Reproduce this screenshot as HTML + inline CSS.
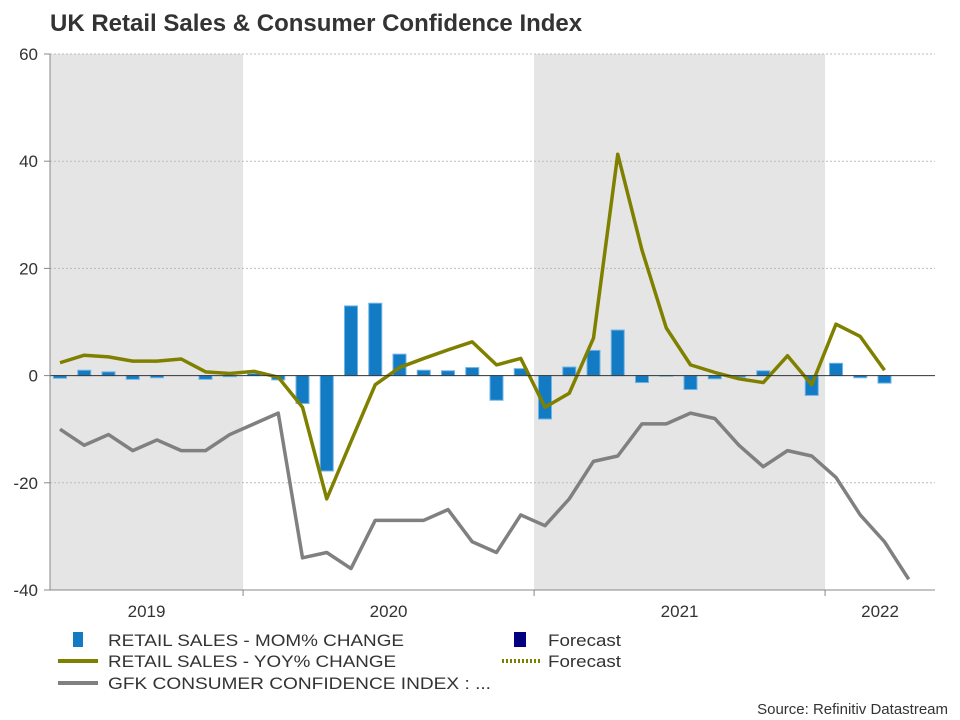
<!DOCTYPE html>
<html><head><meta charset="utf-8"><style>
body{margin:0;background:#fff;}
svg{display:block;font-family:"Liberation Sans",Arial,sans-serif;}
</style></head><body>
<svg id="chart" width="960" height="720" viewBox="0 0 960 720">
<text x="50" y="31" font-size="24" font-weight="bold" fill="#333">UK Retail Sales &amp; Consumer Confidence Index</text>
<g id="bg"></g><g id="grid"></g><g id="bars"></g><g id="lines"></g><g id="axes"></g>
<g font-size="17" fill="#333">
<g><rect x="73" y="632" width="10" height="15" fill="#127bc4"/><text x="108" y="646" textLength="296" lengthAdjust="spacingAndGlyphs">RETAIL SALES - MOM% CHANGE</text></g>
<g><rect x="514" y="632" width="12" height="15" fill="#000080"/><text x="548" y="646" textLength="73" lengthAdjust="spacingAndGlyphs">Forecast</text></g>
<g><line x1="58" y1="661" x2="98" y2="661" stroke="#808000" stroke-width="4"/><text x="108" y="667" textLength="288" lengthAdjust="spacingAndGlyphs">RETAIL SALES - YOY% CHANGE</text></g>
<g><line x1="502" y1="661" x2="542" y2="661" stroke="#808000" stroke-width="4" stroke-dasharray="2,2"/><text x="548" y="667" textLength="73" lengthAdjust="spacingAndGlyphs">Forecast</text></g>
<g><line x1="58" y1="683" x2="98" y2="683" stroke="#808080" stroke-width="4"/><text x="108" y="689" textLength="383" lengthAdjust="spacingAndGlyphs">GFK CONSUMER CONFIDENCE INDEX : ...</text></g>
</g>
<text x="948" y="714" font-size="15" fill="#333" text-anchor="end">Source: Refinitiv Datastream</text>
</svg>
<script>
const yTicks=[60,40,20,0,-20,-40];
const years=["2019","2020","2021","2022"];
const yearStarts=[-1.5,7.55,19.55,31.55];
const mom=[-0.5,1.0,0.7,-0.7,-0.4,0,-0.7,-0.2,0.4,-0.8,-5.2,-17.8,13.0,13.5,4.0,1.0,0.9,1.5,-4.6,1.3,-8.1,1.6,4.7,8.5,-1.3,-0.1,-2.6,-0.6,-0.3,0.9,0,-3.7,2.3,-0.4,-1.4];
const yoy=[2.4,3.8,3.5,2.7,2.7,3.1,0.7,0.4,0.8,-0.3,-5.9,-23,-12.3,-1.7,1.5,3.2,4.8,6.3,2.0,3.2,-5.9,-3.3,7.0,41.3,23.4,8.9,2.0,0.6,-0.6,-1.3,3.7,-1.7,9.6,7.3,1.0];
const gfk=[-10,-13,-11,-14,-12,-14,-14,-11,-9,-7,-34,-33,-36,-27,-27,-27,-25,-31,-33,-26,-28,-23,-16,-15,-9,-9,-7,-8,-13,-17,-14,-15,-19,-26,-31,-38];
const NS="http://www.w3.org/2000/svg";
const L=50,R=935,T=54,B=590;
const x=i=>60+i*24.25;
const y=v=>T+(60-v)*(B-T)/100;
function mk(p,tag,a){const e=document.createElementNS(NS,tag);for(const k in a)e.setAttribute(k,a[k]);p.appendChild(e);return e;}
const bg=document.getElementById('bg'),grid=document.getElementById('grid'),bars=document.getElementById('bars'),lines=document.getElementById('lines'),axes=document.getElementById('axes');
const bounds=yearStarts.map((s,k)=>[k==0?L:x(s),k==3?R:x(yearStarts[k+1])]);
bounds.forEach((b,k)=>{if(k%2==0){const r=mk(bg,'rect',{x:b[0],y:T,width:b[1]-b[0],height:B-T,fill:'#e5e5e5'});

}});
yTicks.forEach(v=>{
 if(v!==0&&v!==-40){const g=mk(grid,'line',{x1:L,x2:R,y1:y(v),y2:y(v),stroke:'#bbb','stroke-dasharray':'2,2'});
 
 }
 const tk=mk(axes,'line',{x1:L-6,x2:L,y1:y(v),y2:y(v),stroke:'#888'});
 
 
 const t=mk(axes,'text',{x:L-12,y:y(v)+6,'font-size':17,fill:'#333','text-anchor':'end'});t.textContent=v;
 
 
});
mom.forEach((v,i)=>{const r=mk(bars,'rect',{x:x(i)-6.5,y:Math.min(y(v),y(0)),width:13,height:Math.abs(y(v)-y(0)),fill:'#127bc4',stroke:'#6fb4e6','stroke-width':1});

});
const z=mk(axes,'line',{x1:L,x2:R,y1:y(0),y2:y(0),stroke:'#333','stroke-width':1});


const gl=mk(lines,'polyline',{points:gfk.map((v,i)=>x(i)+','+y(v)).join(' '),fill:'none',stroke:'#808080','stroke-width':3.5,'stroke-linejoin':'round'});


const yl=mk(lines,'polyline',{points:yoy.map((v,i)=>x(i)+','+y(v)).join(' '),fill:'none',stroke:'#808000','stroke-width':3.5,'stroke-linejoin':'round'});


const ya=mk(axes,'line',{x1:L,x2:L,y1:T,y2:B,stroke:'#888'});


const xa=mk(axes,'line',{x1:L,x2:R,y1:B,y2:B,stroke:'#888'});


bounds.forEach((b,k)=>{
 if(k>0){const tk=mk(axes,'line',{x1:b[0],x2:b[0],y1:B,y2:B+6,stroke:'#888'});
 
 }
 const t=mk(axes,'text',{x:(b[0]+b[1])/2,y:B+27,'font-size':17,fill:'#333','text-anchor':'middle'});t.textContent=years[k];
 
 
});
</script>
</body></html>
